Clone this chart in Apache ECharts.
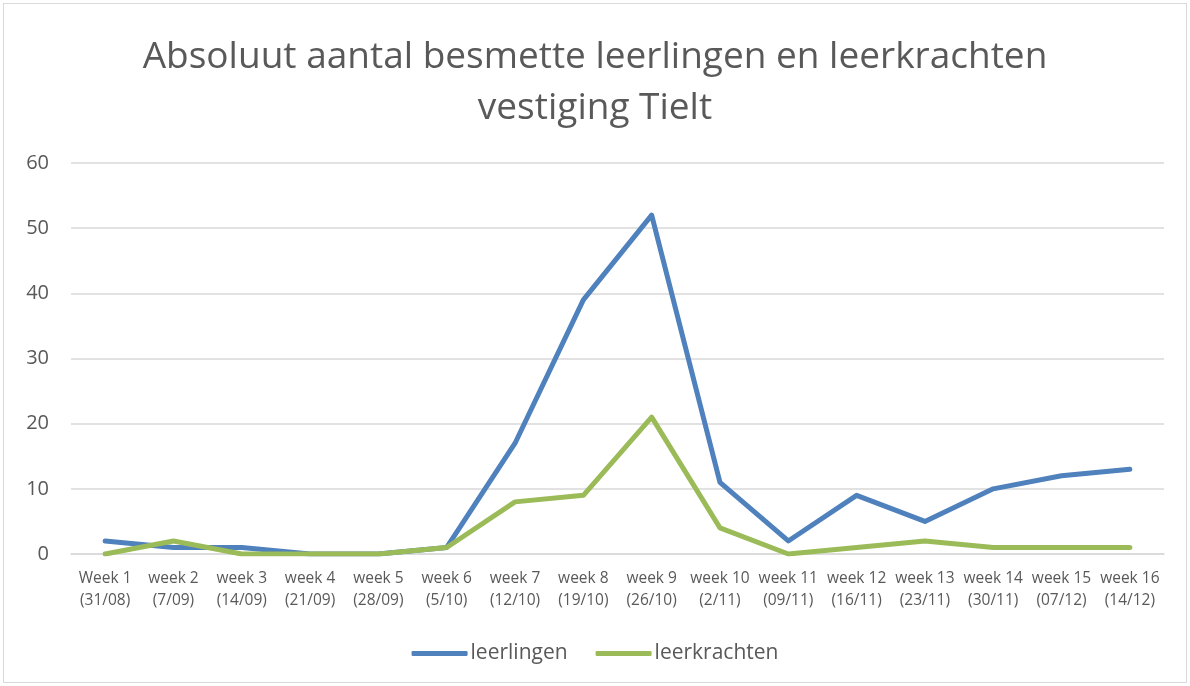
<!DOCTYPE html>
<html>
<head>
<meta charset="utf-8">
<script src="https://cdn.jsdelivr.net/npm/echarts@6/dist/echarts.min.js"></script>
<style>
html,body{margin:0;padding:0;background:#fff;}
#frame{position:absolute;left:3px;top:3px;width:1182px;height:678px;border:1px solid #d9d9d9;}
#chart{position:absolute;left:0;top:0;width:1190px;height:686px;}
</style>
</head>
<body>
<div id="frame"></div>
<div id="chart"></div>
<script>
const categories = ["Week 1\n(31/08)","week 2\n(7/09)","week 3\n(14/09)","week 4\n(21/09)","week 5\n(28/09)","week 6\n(5/10)","week 7\n(12/10)","week 8\n(19/10)","week 9\n(26/10)","week 10\n(2/11)","week 11\n(09/11)","week 12\n(16/11)","week 13\n(23/11)","week 14\n(30/11)","week 15\n(07/12)","week 16\n(14/12)"];
const leerlingen = [2,1,1,0,0,1,17,39,52,11,2,9,5,10,12,13];
const leerkrachten = [0,2,0,0,0,1,8,9,21,4,0,1,2,1,1,1];
const titleText = "Absoluut aantal besmette leerlingen en leerkrachten\nvestiging Tielt";

const chart = echarts.init(document.getElementById('chart'), null, {renderer:'canvas'});
const font = "'Open Sans', 'Noto Sans', sans-serif";
chart.setOption({
  animation:false,
  backgroundColor:'transparent',
  title:{
    text:titleText,
    left:'center', top:27,
    textStyle:{fontFamily:font, fontSize:37, fontWeight:'normal', color:'#595959', lineHeight:51}
  },
  legend:{
    bottom:17, left:'center',
    itemWidth:56, itemHeight:5, itemGap:28,
    icon:'roundRect',
    textStyle:{fontFamily:font, fontSize:21, color:'#595959', padding:[0,0,0,-2]},
    data:['leerlingen','leerkrachten']
  },
  grid:{left:71, right:26, top:163, bottom:132, containLabel:false},
  xAxis:{
    type:'category', data:categories, boundaryGap:true,
    axisLine:{lineStyle:{color:'#d9d9d9', width:1.5}},
    axisTick:{show:false},
    axisLabel:{fontFamily:font, fontSize:15.5, color:'#595959', lineHeight:22, margin:14, interval:0}
  },
  yAxis:{
    type:'value', min:0, max:60, interval:10,
    axisLine:{show:false}, axisTick:{show:false},
    splitLine:{lineStyle:{color:'#d9d9d9', width:1.5}},
    axisLabel:{fontFamily:font, fontSize:20, color:'#595959', margin:22}
  },
  series:[
    {name:'leerlingen', type:'line', data:leerlingen, symbol:'none', lineStyle:{width:5, color:'#4F81BD', cap:'round', join:'round'}, itemStyle:{color:'#4F81BD'}},
    {name:'leerkrachten', type:'line', data:leerkrachten, symbol:'none', lineStyle:{width:5, color:'#9BBB59', cap:'round', join:'round'}, itemStyle:{color:'#9BBB59'}}
  ]
});
</script>
</body>
</html>
